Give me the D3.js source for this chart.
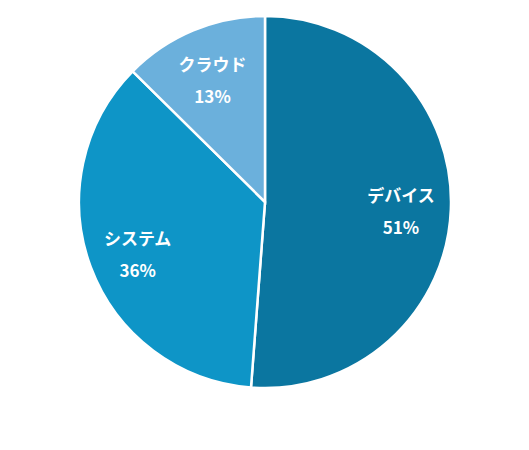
<!DOCTYPE html>
<html lang="ja">
<head>
<meta charset="UTF-8">
<title>円グラフ</title>
<script src="https://d3js.org/d3.v7.min.js"></script>
<style>
  body { margin: 0; background: #fff; }
  svg { display: block; }
</style>
</head>
<body>
<div id="chart"></div>
<script>
// --- data ---
const categories = ['デバイス', 'システム', 'クラウド'];
const values = [51.2, 36.2, 12.6];
const percentLabels = ['51%', '36%', '13%'];
const colors = ['#0b76a0', '#0e95c7', '#6bb0dc'];

const width = 529, height = 450;
const cx = 265, cy = 202, radius = 186;

const svg = d3.select('#chart').append('svg')
  .attr('width', width)
  .attr('height', height);

const g = svg.append('g').attr('transform', `translate(${cx},${cy})`);

const data = categories.map((c, i) => ({ name: c, value: values[i], pct: percentLabels[i], color: colors[i] }));

const pie = d3.pie().value(d => d.value).sort(null);
const arc = d3.arc().innerRadius(0).outerRadius(radius);
const labelArc = d3.arc().innerRadius(136).outerRadius(136);

const slices = pie(data);

g.selectAll('path')
  .data(slices)
  .enter().append('path')
  .attr('d', arc)
  .attr('fill', d => d.data.color)
  .attr('stroke', '#fff')
  .attr('stroke-width', 2.5);

const labels = g.selectAll('g.label')
  .data(slices)
  .enter().append('g')
  .attr('class', 'label')
  .attr('transform', d => {
    const [x, y] = labelArc.centroid(d);
    return `translate(${x},${y})`;
  })
  .style('font-family', '"Noto Sans CJK JP", "Noto Sans", sans-serif')
  .style('font-weight', 'bold')
  .style('font-size', '17px')
  .attr('fill', '#fff')
  .attr('text-anchor', 'middle');

labels.append('text')
  .attr('y', -11)
  .attr('dy', '0.35em')
  .text(d => d.data.name);

labels.append('text')
  .attr('y', 21)
  .attr('dy', '0.35em')
  .text(d => d.data.pct);
</script>
</body>
</html>
